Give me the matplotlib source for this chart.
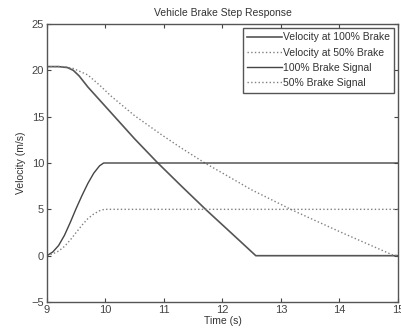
import matplotlib
matplotlib.use("Agg")
import matplotlib.pyplot as plt

plt.rcParams['font.family'] = ['Liberation Sans', 'DejaVu Sans']

# velocity at 100% brake
t_v100 = [9.0, 9.2, 9.35, 9.45, 9.55, 9.7, 9.9, 10.1, 10.5, 10.88, 11.3, 11.72, 12.15, 12.57, 15.0]
v_v100 = [20.4, 20.4, 20.3, 20.0, 19.4, 18.2, 16.8, 15.4, 12.6, 10.1, 7.5, 4.95, 2.45, 0.0, 0.0]

# velocity at 50% brake
t_v50 = [9.0, 9.3, 9.45, 9.7, 9.9, 10.1, 10.5, 10.97, 11.3, 11.7, 12.5, 13.2, 14.0, 14.9, 15.0]
v_v50 = [20.4, 20.4, 20.2, 19.5, 18.4, 17.2, 15.1, 13.0, 11.6, 10.0, 7.1, 4.9, 2.6, 0.1, 0.0]

# brake signals
t_b100 = [9.0, 9.1, 9.2, 9.3, 9.4, 9.5, 9.6, 9.7, 9.8, 9.9, 9.97, 15.0]
b_b100 = [0.0, 0.4, 1.1, 2.2, 3.6, 5.1, 6.5, 7.8, 8.9, 9.7, 10.0, 10.0]

t_b50 = [9.0, 9.1, 9.2, 9.3, 9.4, 9.5, 9.6, 9.7, 9.8, 9.9, 9.98, 15.0]
b_b50 = [0.0, 0.2, 0.5, 1.0, 1.7, 2.5, 3.3, 4.0, 4.5, 4.85, 5.0, 5.0]

fig = plt.figure(figsize=(4.01, 3.33), dpi=100)
ax = fig.add_axes([0.117, 0.093, 0.8755, 0.835])

ax.plot(t_v100, v_v100, '-', color='#555555', lw=1.2, label='Velocity at 100% Brake')
ax.plot(t_v50, v_v50, ':', color='#808080', lw=1.0, label='Velocity at 50% Brake')
ax.plot(t_b100, b_b100, '-', color='#444444', lw=1.0, label='100% Brake Signal')
ax.plot(t_b50, b_b50, ':', color='#808080', lw=1.0, label='50% Brake Signal')

ax.set_xlim(9, 15)
ax.set_ylim(-5, 25)
ax.set_xticks(range(9, 16))
ax.set_yticks(range(-5, 26, 5))
ax.tick_params(direction='in', top=True, right=True, length=3, labelsize=8,
               colors='#444444', pad=2)
for s in ax.spines.values():
    s.set_color('#555555')
    s.set_linewidth(1.0)

ax.set_title('Vehicle Brake Step Response', fontsize=7.5, color='#333333', pad=6)
ax.set_xlabel('Time (s)', fontsize=7.5, color='#333333', labelpad=1)
ax.set_ylabel('Velocity (m/s)', fontsize=7.5, color='#333333', labelpad=4)

leg = ax.legend(loc='upper right', fontsize=7.5, handlelength=3.3, handletextpad=0.1,
                labelspacing=0.5, borderpad=0.45, borderaxespad=0.35,
                fancybox=False, framealpha=1)
leg.get_frame().set_edgecolor('#555555')
leg.get_frame().set_linewidth(1.0)
for txt in leg.get_texts():
    txt.set_color('#333333')

fig.savefig('out.png', dpi=100)
